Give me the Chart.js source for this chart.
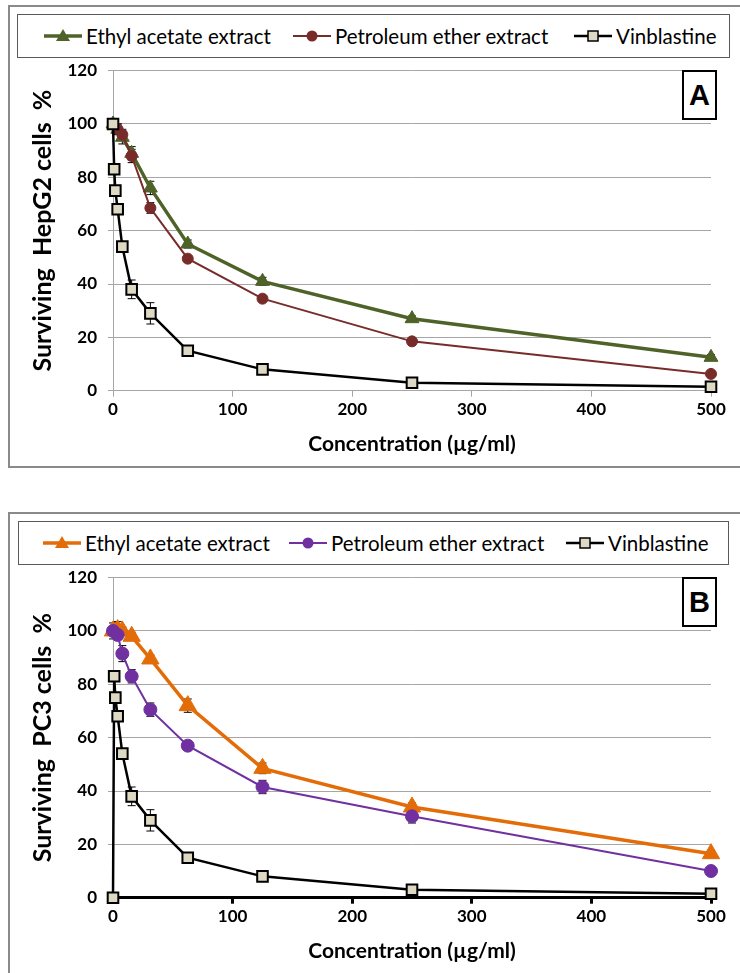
<!DOCTYPE html>
<html lang="en">
<head>
<meta charset="UTF-8" />
<title>Surviving cells</title>
<script src="https://cdn.jsdelivr.net/npm/chart.js"></script>
<style>
  html, body { margin: 0; padding: 0; background: #fff; width: 740px; height: 973px; overflow: hidden; font-family: Lato, sans-serif; }
  .frame { position: absolute; left: 8px; width: 760px; border: 2px solid #8a8a8a; box-sizing: border-box; }
  .legend { position: absolute; border: 1px solid #5a5a5a; background: #fff; box-sizing: border-box; }
  .item { position: absolute; top: 0; height: 100%; display: flex; align-items: center; font-size: 20.5px; color: #000; white-space: nowrap; }
  .item svg { margin-right: 4px; }
  .tag { position: absolute; width: 35px; height: 50px; border: 2px solid #000; box-sizing: border-box; background: #fff;
         font: bold 29px "Liberation Sans", Arial, sans-serif; display: flex; align-items: center; justify-content: center; }
  canvas { position: absolute; left: 0; }
</style>
</head>
<body>

<div class="frame" style="top:5px; height:463px;"></div>
<div class="frame" style="top:512px; height:480px;"></div>

<canvas id="chartA" width="740" height="480" style="top:0px;"></canvas>
<canvas id="chartB" width="740" height="480" style="top:507px;"></canvas>

<div class="legend" id="legendA" style="left:17px; top:14px; width:713px; height:44px;"></div>
<div class="legend" id="legendB" style="left:18px; top:521px; width:711px; height:44px;"></div>

<div class="tag" style="left:682px; top:70px;">A</div>
<div class="tag" style="left:682px; top:577px;">B</div>

<script>
  // concentrations (µg/ml)
  const concExtract = [0, 3.9, 7.8, 15.6, 31.25, 62.5, 125, 250, 500];
  const concVin = [0, 0.98, 1.95, 3.9, 7.8, 15.6, 31.25, 62.5, 125, 250, 500];
  const seriesNames = ["Ethyl acetate extract", "Petroleum ether extract", "Vinblastine"];

  // panel A - HepG2
  const hepEthyl = [100, 98, 95, 89, 76, 55, 41, 27, 12.5];
  const hepEthylErr = [2, 2, 2.5, 2.5, 2.5, 1.5, 1.5, 1, 1];
  const hepPet = [100, 98, 96, 88, 68.5, 49.5, 34.5, 18.5, 6.3];
  const hepPetErr = [2, 2, 2, 2.5, 2, 1, 1, 1, 0.5];
  const hepVin = [100, 83, 75, 68, 54, 38, 29, 15, 8, 3, 1.5];
  const hepVinErr = [2, 1, 1, 1, 1, 3.5, 4, 1, 1, 1, 0.5];

  // panel B - PC3
  const pcEthyl = [100, 100.5, 100, 98, 89.5, 72, 48.5, 34, 16.5];
  const pcEthylErr = [3, 3, 1.5, 1.5, 1.5, 2.5, 2, 1.5, 1];
  const pcPet = [100, 98.5, 91.5, 83, 70.5, 57, 41.5, 30.5, 10];
  const pcPetErr = [1, 1, 3, 2.5, 2.5, 1.5, 2.5, 2.5, 1];
  const pcVin = [0, 83, 75, 68, 54, 38, 29, 15, 8, 3, 1.5];
  const pcVinErr = [0, 1, 1, 1, 1, 3.5, 4, 1, 1, 1, 0.5];

  const yTicks = [0, 20, 40, 60, 80, 100, 120];
  const xTicks = [0, 100, 200, 300, 400, 500];

  const FONT = "Lato, 'Open Sans', sans-serif";

  function pts(xs, ys) { return xs.map((x, i) => ({ x: x, y: ys[i] })); }

  // error bars drawn through the chart scales
  const errorBars = {
    id: "errorBars",
    beforeDatasetsDraw(chart) {
      const ctx = chart.ctx, xs = chart.scales.x, ys = chart.scales.y;
      ctx.save();
      ctx.strokeStyle = "#000";
      ctx.lineWidth = 1;
      chart.data.datasets.forEach(ds => {
        if (!ds.err) return;
        ds.data.forEach((p, i) => {
          const e = ds.err[i];
          if (!e) return;
          const px = xs.getPixelForValue(p.x);
          const y1 = ys.getPixelForValue(p.y + e), y2 = ys.getPixelForValue(p.y - e);
          ctx.beginPath();
          ctx.moveTo(px, y1); ctx.lineTo(px, y2);
          ctx.moveTo(px - 4, y1); ctx.lineTo(px + 4, y1);
          ctx.moveTo(px - 4, y2); ctx.lineTo(px + 4, y2);
          ctx.stroke();
        });
      });
      ctx.restore();
    }
  };

  function makeChart(id, title, sets, axisColor, axisWidth) {
    const ctx = document.getElementById(id).getContext("2d");
    return new Chart(ctx, {
      type: "line",
      data: {
        datasets: sets.map((s, i) => ({
          label: seriesNames[i],
          data: pts(s.x, s.y),
          err: s.err,
          borderColor: s.line,
          borderWidth: s.lw,
          backgroundColor: s.fill,
          pointBackgroundColor: s.fill,
          pointBorderColor: s.mark,
          pointBorderWidth: s.pbw,
          pointStyle: s.style,
          pointRadius: s.r,
          pointHoverRadius: s.r,
          tension: 0,
          fill: false,
          clip: false,
          order: 2 - i
        }))
      },
      options: {
        responsive: false,
        animation: false,
        events: [],
        layout: { padding: { left: 28, right: 29, top: 70.6, bottom: 23.3 } },
        plugins: { legend: { display: false }, tooltip: { enabled: false } },
        scales: {
          x: {
            type: "linear",
            min: 0, max: 500,
            afterBuildTicks: s => { s.ticks = xTicks.map(v => ({ value: v })); },
            afterFit: s => { s.height = 66; },
            border: { color: axisColor, width: axisWidth },
            grid: { drawOnChartArea: false, drawTicks: true, tickLength: 6, tickColor: axisColor, tickWidth: axisWidth },
            ticks: { color: "#000", padding: 3, maxRotation: 0, font: { family: FONT, size: 17, weight: "bold" } },
            title: { display: true, text: "Concentration (µg/ml)", color: "#000", padding: 0,
                     font: { family: FONT, size: 21, weight: "bold" } }
          },
          y: {
            min: 0, max: 120,
            afterBuildTicks: s => { s.ticks = yTicks.map(v => ({ value: v })); },
            afterFit: s => { s.width = 85; },
            border: { color: "#a6a6a6", width: 1 },
            grid: { color: "#a6a6a6", lineWidth: 1, drawTicks: true, tickLength: 5, tickColor: "#a6a6a6" },
            ticks: { color: "#000", padding: 11, font: { family: FONT, size: 17, weight: "bold" } },
            title: { display: true, text: title, color: "#000", padding: 0,
                     font: { family: FONT, size: 25, weight: "bold" } }
          }
        }
      },
      plugins: [errorBars]
    });
  }

  makeChart("chartA", "Surviving  HepG2 cells  %", [
    { x: concExtract, y: hepEthyl, err: hepEthylErr, line: "#4f6228", fill: "#4f6228", mark: "#4f6228", lw: 3.5, pbw: 1, style: "triangle", r: 8 },
    { x: concExtract, y: hepPet, err: hepPetErr, line: "#772c2a", fill: "#772c2a", mark: "#772c2a", lw: 2, pbw: 1, style: "circle", r: 5.5 },
    { x: concVin, y: hepVin, err: hepVinErr, line: "#000", fill: "#ddd9c3", mark: "#000", lw: 2.5, pbw: 2, style: "rect", r: 7.5 }
  ], "#a6a6a6", 1);

  makeChart("chartB", "Surviving  PC3 cells  %", [
    { x: concExtract, y: pcEthyl, err: pcEthylErr, line: "#e36c09", fill: "#e36c09", mark: "#e36c09", lw: 3.5, pbw: 1, style: "triangle", r: 10 },
    { x: concExtract, y: pcPet, err: pcPetErr, line: "#7030a0", fill: "#7030a0", mark: "#7030a0", lw: 2, pbw: 1, style: "circle", r: 6.5 },
    { x: concVin, y: pcVin, err: pcVinErr, line: "#000", fill: "#ddd9c3", mark: "#000", lw: 2.5, pbw: 2, style: "rect", r: 7.5 }
  ], "#000", 3);

  // html legends
  function icon(color, style, fill, lw) {
    let m;
    if (style === "triangle") m = `<polygon points="19,3 26,15 12,15" fill="${color}"/>`;
    else if (style === "circle") m = `<circle cx="19" cy="10" r="5.5" fill="${color}"/>`;
    else m = `<rect x="14" y="5" width="10" height="10" fill="${fill}" stroke="#000" stroke-width="1.5"/>`;
    return `<svg width="38" height="20"><line x1="0" y1="10" x2="38" y2="10" stroke="${color}" stroke-width="${lw}"/>${m}</svg>`;
  }
  function fillLegend(id, items, lefts) {
    const box = document.getElementById(id);
    items.forEach((it, i) => {
      const d = document.createElement("div");
      d.className = "item";
      d.style.left = lefts[i] + "px";
      d.innerHTML = icon(it[0], it[1], it[2], it[3]) + "<span>" + seriesNames[i] + "</span>";
      box.appendChild(d);
    });
  }
  fillLegend("legendA", [["#4f6228", "triangle", "#4f6228", 3.5], ["#772c2a", "circle", "#772c2a", 2], ["#000", "rect", "#ddd9c3", 2.5]], [26, 275, 556]);
  fillLegend("legendB", [["#e36c09", "triangle", "#e36c09", 3.5], ["#7030a0", "circle", "#7030a0", 2], ["#000", "rect", "#ddd9c3", 2.5]], [24, 270, 547]);
</script>
</body>
</html>
